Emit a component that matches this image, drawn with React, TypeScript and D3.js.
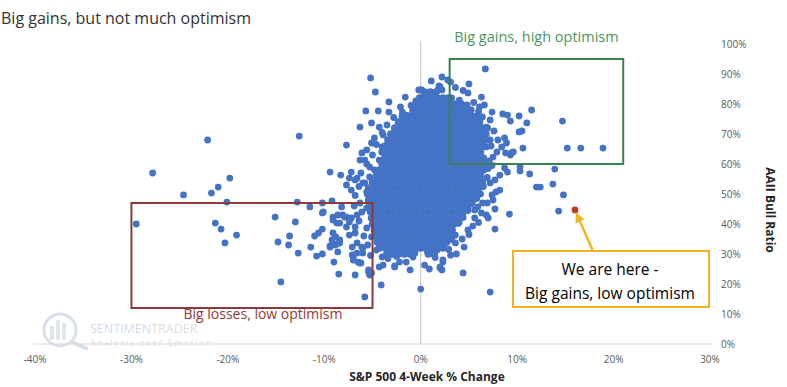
import React from "react";
import * as d3 from "d3";

// ---------- data ----------
const xTicks = [-40, -30, -20, -10, 0, 10, 20, 30];
const yTicks = [0, 10, 20, 30, 40, 50, 60, 70, 80, 90, 100];

// dense core of the cloud: [AAII bull ratio %, list of S&P 4-week % changes]
const coreRows: [number, number[]][] = [
  [84, [0.4, 1.0, 1.6]],
  [82, [-0.1, 0.5, 1.1, 1.7, 2.3, 2.9]],
  [80, [-0.5, 0.1, 0.7, 1.3, 1.9, 2.5, 3.1, 3.6, 4.2]],
  [78, [-0.8, -0.2, 0.4, 1.0, 1.6, 2.2, 2.8, 3.4, 4.0, 4.6, 5.2]],
  [76, [-1.9, -1.3, -0.7, -0.1, 0.5, 1.1, 1.7, 2.3, 2.9, 3.5, 4.1, 4.7, 5.3, 5.9]],
  [74, [-2.3, -1.7, -1.1, -0.5, 0.1, 0.7, 1.3, 1.9, 2.5, 3.1, 3.7, 4.3, 4.9, 5.5, 6.1]],
  [72, [-2.7, -2.1, -1.5, -0.9, -0.3, 0.3, 0.9, 1.5, 2.1, 2.7, 3.3, 3.9, 4.5, 5.1, 5.7, 6.3, 6.9]],
  [70, [-3.1, -2.5, -1.9, -1.3, -0.7, -0.1, 0.5, 1.1, 1.7, 2.3, 2.9, 3.5, 4.1, 4.7, 5.3, 5.9, 6.5]],
  [68, [-3.4, -2.8, -2.2, -1.6, -1.0, -0.4, 0.2, 0.8, 1.4, 2.0, 2.6, 3.2, 3.8, 4.4, 5.0, 5.6, 6.2, 6.8]],
  [66, [-3.7, -3.1, -2.5, -1.9, -1.3, -0.7, -0.1, 0.5, 1.1, 1.7, 2.3, 2.9, 3.5, 4.1, 4.7, 5.3, 5.9, 6.5]],
  [64, [-4.0, -3.4, -2.8, -2.2, -1.6, -1.0, -0.4, 0.2, 0.8, 1.4, 2.0, 2.6, 3.2, 3.8, 4.4, 5.0, 5.6, 6.2]],
  [62, [-3.7, -3.1, -2.5, -1.9, -1.3, -0.7, -0.1, 0.5, 1.1, 1.7, 2.3, 2.9, 3.5, 4.1, 4.7, 5.3, 5.9, 6.5]],
  [60, [-4.0, -3.4, -2.8, -2.2, -1.6, -1.0, -0.4, 0.2, 0.8, 1.4, 2.0, 2.6, 3.2, 3.8, 4.4, 5.0, 5.6, 6.2]],
  [58, [-4.3, -3.7, -3.1, -2.5, -1.9, -1.3, -0.7, -0.1, 0.5, 1.1, 1.7, 2.3, 2.9, 3.5, 4.1, 4.7, 5.3, 5.9, 6.5]],
  [56, [-4.6, -4.0, -3.4, -2.8, -2.2, -1.6, -1.0, -0.4, 0.2, 0.8, 1.4, 2.0, 2.6, 3.2, 3.8, 4.4, 5.0, 5.6, 6.2]],
  [54, [-5.0, -4.4, -3.8, -3.2, -2.6, -2.0, -1.4, -0.8, -0.2, 0.4, 1.0, 1.6, 2.2, 2.8, 3.4, 4.0, 4.6, 5.2, 5.8, 6.4]],
  [52, [-5.4, -4.8, -4.2, -3.6, -3.0, -2.4, -1.8, -1.2, -0.6, 0.0, 0.6, 1.2, 1.8, 2.4, 3.0, 3.6, 4.2, 4.8, 5.4, 6.0]],
  [50, [-5.5, -4.9, -4.3, -3.7, -3.1, -2.5, -1.9, -1.3, -0.7, -0.1, 0.5, 1.1, 1.7, 2.3, 2.9, 3.5, 4.1, 4.7, 5.3, 5.9]],
  [48, [-5.4, -4.8, -4.2, -3.6, -3.0, -2.4, -1.8, -1.2, -0.6, 0.0, 0.6, 1.2, 1.8, 2.4, 3.0, 3.6, 4.2, 4.8, 5.4]],
  [46, [-5.3, -4.7, -4.1, -3.5, -2.9, -2.3, -1.7, -1.1, -0.5, 0.1, 0.7, 1.3, 1.9, 2.5, 3.1, 3.7, 4.3, 4.9]],
  [44, [-5.2, -4.6, -4.0, -3.4, -2.8, -2.2, -1.6, -1.0, -0.4, 0.2, 0.8, 1.4, 2.0, 2.6, 3.2, 3.8, 4.4]],
  [42, [-5.1, -4.5, -3.9, -3.3, -2.7, -2.1, -1.5, -0.9, -0.3, 0.3, 0.9, 1.5, 2.1, 2.7, 3.3, 3.9]],
  [40, [-5.0, -4.4, -3.8, -3.2, -2.6, -2.0, -1.4, -0.8, -0.2, 0.4, 1.0, 1.6, 2.2, 2.8, 3.4]],
  [38, [-4.8, -4.2, -3.6, -3.0, -2.4, -1.8, -1.2, -0.6, 0.0, 0.6, 1.2, 1.8, 2.4, 3.0]],
  [36, [-4.6, -4.0, -3.4, -2.8, -2.2, -1.6, -1.0, -0.4, 0.2, 0.8, 1.4, 2.0, 2.6, 3.2]],
  [34, [-4.5, -3.9, -3.3, -2.7, -2.1, -1.5, -0.9, -0.3, 0.3, 0.9, 1.5, 2.1, 2.7]],
  [32, [-4.3, -3.7, -3.1, -2.5, -1.9, -1.3, -0.7, -0.1, 0.5, 1.1, 1.7, 2.3]],
  [30, [-3.5, -2.9, -2.3, -1.7, -1.1, 0.8, 1.4]],
];

// scattered weeks around the core: [S&P 4-week % change, AAII bull ratio %]
const scatterPts: [number, number][] = [
  [-22.1, 68], [-12.6, 69.3], [-7.7, 66.3], [-27.8, 57], [-24.6, 49.7], [-21.7, 50.3],
  [-21.0, 52.3], [-19.8, 55.3], [-20.1, 47.3], [-12.8, 47.3], [-11.5, 45.7], [-9.4, 57.3],
  [-8.3, 56.3], [-10.2, 47], [-9.2, 47.7], [-15.1, 42.3],
  [-29.5, 40], [-21.3, 40.3], [-20.7, 38.3], [-20.3, 33.7], [-19.1, 36.3], [-13.0, 40.7],
  [-13.6, 36], [-14.8, 34], [-13.7, 33], [-12.7, 30.3], [-14.5, 20.7], [-11.4, 32.3],
  [-10.8, 29.3], [-10.2, 30], [-11, 36], [-10.6, 37], [-10.2, 38.3], [-9.4, 32.7],
  [-9.0, 27.3], [-8.5, 23.3], [-6.8, 23], [-5.8, 15.7], [-4.1, 19.7], [-2.7, 26],
  [-5.4, 24], [-7, 29], [-6.3, 27], [-7.2, 57.3], [-6.6, 55.3], [-5.8, 53.7], [-8.2, 45.7],
  [-9.1, 42.3], [-8.7, 40.3], [-8.1, 43], [-10.1, 44], [-8.8, 35.7], [-8.4, 34.7],
  [-8.7, 33.3], [-7.4, 36.3], [-6.8, 37], [-7.1, 32.3], [-6.6, 30.3], [-6.0, 32],
  [-7.7, 42.3], [-7.2, 42], [-6.6, 43], [-6.1, 44], [-5.6, 45.3],
  [-5.2, 88.7], [-4.7, 84], [-3.3, 80.7], [-5.7, 77.7], [-4.4, 77.7], [-3.3, 77.3],
  [-1.6, 82.3], [-0.5, 81], [-0.2, 84.7], [0.0, 84.7], [1.1, 87.7], [2.2, 89], [1.9, 86],
  [2.2, 84.7], [1.1, 82.7], [0.2, 82], [-6.3, 72.3], [-5.1, 73.7], [-4.3, 72.3],
  [-1.9, 77.3], [-1.5, 76.3], [-0.9, 75.7], [-2.3, 70.7], [-1.6, 72.3], [-1.1, 73.7],
  [-3.9, 69.7], [-4.8, 68.7], [-5.1, 67], [-5.6, 64.7], [-6.1, 63.7], [-6.3, 61.3],
  [-5.8, 61.3], [-5.3, 59], [-7.4, 55.3], [-6.8, 54.7], [-7.7, 53], [-7.2, 51.3],
  [-4.0, 65.7], [-3.5, 63.7], [-4.3, 61.3], [-4.8, 58], [-4.3, 55.7], [-5.3, 55.7],
  [-6.0, 53.7], [-5.6, 50.7],
  [0.0, 18.3], [-10.2, 43.7], [-9.1, 37], [-8.4, 33.7], [-9.2, 34.7], [-8.9, 33],
  [-8.6, 30.7], [-9.4, 32.3], [-7.1, 29.7], [-6.5, 27.3], [-6.2, 27], [-7.0, 28],
  [-5.4, 24.7], [-5.3, 23], [-5.1, 23.7], [-4.3, 25.7], [-3.9, 26.3], [-2.7, 25.7],
  [-2.2, 27.3], [-1.5, 27.3], [-1.1, 24.7], [0.4, 26.3], [0.9, 25], [2.0, 25.3],
  [2.3, 27.3], [2.5, 33.7], [0.7, 30.7], [1.7, 31.3], [1.2, 34], [-0.8, 29], [-0.6, 30.3],
  [0.1, 32], [-9.1, 41.3], [-8.6, 43], [-7.9, 42.3], [-7.4, 40.7], [-6.8, 39], [-7.7, 39],
  [-8.4, 40.3], [-6.6, 33.7], [-6.1, 32.3], [-6.0, 30.3], [-5.6, 38.7], [-5.1, 35.7],
  [-4.6, 31.3], [-4.0, 29],
  [10.3, 57.7], [11.3, 56.7], [13.9, 58.3], [12.0, 52.3], [12.4, 52.3], [13.7, 53.3],
  [14.8, 49.7], [14.3, 44.3], [9.2, 43.3], [7.7, 45], [7.7, 38.3], [7.0, 42], [6.8, 43],
  [7.2, 17.3], [4.4, 23.7], [3.7, 30], [3.6, 33.7], [2.6, 33.7], [4.5, 32.3], [4.9, 38],
  [5.4, 39.3], [5.6, 42], [6.3, 43.7], [8.2, 51.3], [7.8, 50.7], [7.4, 49.7], [7.5, 48],
  [9.0, 57.3], [8.7, 58.7], [8.2, 56.3], [7.7, 54.7], [7.2, 53.7], [9.4, 63.7], [9.6, 64],
  [2.3, 28], [2.0, 25.7], [2.2, 24.7], [3.3, 38], [4.0, 40.7], [2.5, 38], [5.6, 44.7],
  [5.9, 45.7], [6.4, 47],
  [6.7, 91.7], [3.1, 87.3], [5.0, 86.7], [4.9, 83.7], [11.5, 78], [10.2, 76], [8.5, 76.7],
  [9.0, 76.3], [11.0, 73.7], [9.3, 74.3], [14.7, 74.3], [15.2, 65.3], [16.6, 65.3],
  [18.9, 65.3], [10.6, 65.3], [10.5, 71], [10.2, 70.7], [8.7, 68.7], [8.0, 68], [8.9, 67],
  [8.4, 65.7], [8.8, 63.7], [7.6, 71], [6.8, 72.3], [7.2, 74.7], [6.4, 75.7], [7.4, 77.3],
  [6.6, 79.7], [6.1, 79], [6.3, 82.3], [7.9, 64], [7.5, 62.3], [6.8, 65.7], [7.2, 68],
  [9.3, 63], [10.3, 59], [0.1, 84.7], [1.1, 82.3], [2.0, 85.7], [1.8, 84.7], [3.2, 82],
  [4.0, 81.3], [4.8, 79.7], [4.4, 78.7],
  [6.6, 60], [7.0, 58.5], [6.9, 55.5], [6.5, 52.5], [6.2, 50], [5.8, 48.5], [5.3, 46.8],
  [4.9, 44.5], [4.4, 42.2], [3.9, 40.2], [3.6, 36.3], [3.2, 34.8], [2.9, 31.5], [3.1, 29.6],
  [1.5, 28.8], [4.3, 35], [5.0, 36.5], [6.0, 40.5], [6.9, 47], [7.1, 61], [7.4, 59.5],
  [6.8, 70], [7.3, 66], [6.0, 77.5], [5.5, 80.5], [4.4, 84.5], [3.6, 85.5], [2.8, 88],
  [-1.0, 79.5], [-2.1, 79], [-2.8, 75.5], [-3.5, 73], [-4.0, 70.5], [-4.6, 66.5], [-5.0, 63],
  [-5.6, 60], [-6.2, 57], [-6.4, 52.5], [-6.8, 49.5], [-6.3, 47], [-6.9, 46], [-6.4, 41],
  [-5.9, 36], [-5.5, 33], [-5.2, 29.5], [-3.4, 28.5], [-2.5, 29.2], [-1.8, 30.5],
];

// the current week
const currentPt: [number, number] = [16.0, 44.7];

// zones: [x0, x1, y0, y1]
const highZone = [3, 21, 60, 95];
const lowZone = [-30, -5, 12, 47];

export default function App() {
  const W = 787;
  const H = 387;
  const x = d3.scaleLinear().domain([-40, 30]).range([35, 710]);
  const y = d3.scaleLinear().domain([0, 100]).range([344, 44]);
  const fmt = (v: number) => `${v}%`;
  const font = "'Open Sans', 'Noto Sans', sans-serif";

  const corePts: [number, number][] = [];
  coreRows.forEach(([yy, xs]) => xs.forEach((xx) => corePts.push([xx, yy])));

  const r = 3.4;
  const ax = x(currentPt[0]);
  const ay = y(currentPt[1]);

  return (
    <div style={{ position: "absolute", left: 0, top: 0 }}>
      <svg width={W} height={H} style={{ display: "block", fontFamily: font }}>
        <rect x={0} y={0} width={W} height={H} fill="#fff" />
        {/* title */}
        <text x={1} y={24} fontSize={16} fill="#333333">Big gains, but not much optimism</text>

        {/* watermark */}
        <g opacity={0.55}>
          <circle cx={60} cy={330} r={16} fill="none" stroke="#b8c7d8" strokeWidth={3} />
          <rect x={50} y={326} width={4} height={14} fill="#c9d3dd" />
          <rect x={56} y={320} width={4} height={20} fill="#c9d3dd" />
          <rect x={62} y={323} width={4} height={17} fill="#c9d3dd" />
          <line x1={72} y1={342} x2={88} y2={349} stroke="#b8c7d8" strokeWidth={4} />
          <text x={90} y={333} fontSize={12.5} fill="#a9c2df">SENTIMEN<tspan fill="#c4c4c4">TRADER</tspan></text>
          <text x={90} y={346} fontSize={8.5} letterSpacing={1.7} fill="#c4c4c4">Analysis over Emotion</text>
        </g>

        {/* axes */}
        <line x1={x(-40) - 2} x2={x(30) + 3} y1={y(0)} y2={y(0)} stroke="#d9d9d9" strokeWidth={1} />
        <line x1={x(0)} x2={x(0)} y1={y(100) - 2} y2={y(0)} stroke="#bfbfbf" strokeWidth={1} />
        {xTicks.map((t) => (
          <text key={t} x={x(t)} y={363} fontSize={10} fill="#595959" textAnchor="middle">{fmt(t)}</text>
        ))}
        {yTicks.map((t) => (
          <text key={t} x={721} y={y(t) + 3.5} fontSize={10} fill="#595959">{fmt(t)}</text>
        ))}
        <text x={427} y={381} fontSize={12} fontWeight="bold" fill="#262626" textAnchor="middle">S&amp;P 500 4-Week % Change</text>
        <text transform={`translate(766,210) rotate(90)`} fontSize={12} fontWeight="bold" fill="#262626" textAnchor="middle">AAII Bull Ratio</text>

        {/* points */}
        {corePts.map(([px, py], i) => (
          <circle key={`c${i}`} cx={x(px)} cy={y(py)} r={3.8} fill="#4472C4" />
        ))}
        {scatterPts.map(([px, py], i) => (
          <circle key={`s${i}`} cx={x(px)} cy={y(py)} r={r} fill="#4472C4" />
        ))}
        <circle cx={ax} cy={ay} r={r} fill="#C0392B" />

        {/* zones */}
        <rect x={x(highZone[0])} y={y(highZone[3])} width={x(highZone[1]) - x(highZone[0])} height={y(highZone[2]) - y(highZone[3])} fill="none" stroke="#3E7F4F" strokeWidth={2} />
        <text x={(x(highZone[0]) + x(highZone[1])) / 2} y={42} fontSize={14.5} fill="#4B9660" textAnchor="middle">Big gains, high optimism</text>
        <rect x={x(lowZone[0])} y={y(lowZone[3])} width={x(lowZone[1]) - x(lowZone[0])} height={y(lowZone[2]) - y(lowZone[3])} fill="none" stroke="#8B3A3A" strokeWidth={2} />
        <text x={263} y={319} fontSize={14} fill="#953735" textAnchor="middle">Big losses, low optimism</text>

        {/* annotation */}
        <defs>
          <marker id="ah" viewBox="0 0 10 10" refX={5} refY={5} markerWidth={4} markerHeight={4} orient="auto-start-reverse">
            <path d="M0,0 L10,5 L0,10 z" fill="#F0B323" />
          </marker>
        </defs>
        <line x1={593} y1={251} x2={ax + 3} y2={ay + 7} stroke="#F0B323" strokeWidth={2.5} markerEnd="url(#ah)" />
        <rect x={513} y={251} width={196} height={56} fill="#fff" stroke="#F0B323" strokeWidth={2} />
        <text x={610} y={275} fontSize={15.5} fill="#000" textAnchor="middle">We are here -</text>
        <text x={610} y={299} fontSize={15.5} fill="#000" textAnchor="middle">Big gains, low optimism</text>
      </svg>
    </div>
  );
}
